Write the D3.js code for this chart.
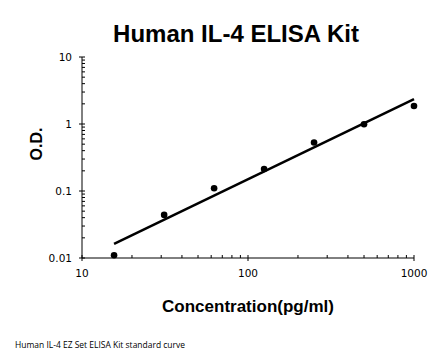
<!DOCTYPE html>
<html>
<head>
<meta charset="utf-8">
<script src="https://cdn.jsdelivr.net/npm/d3@7"></script>
<style>
body { margin: 0; background: #fff; }
text { font-family: "Liberation Sans", Arial, sans-serif; fill: #000; }
</style>
</head>
<body>
<script>
const concentration = [15.6, 31.25, 62.5, 125, 250, 500, 1000];
const od = [0.011, 0.044, 0.11, 0.213, 0.53, 0.99, 1.86];
const xTicks = [10, 100, 1000];
const yTicks = [0.01, 0.1, 1, 10];

const W = 448, H = 361;
const margin = {top: 57, bottom: 103, left: 82, right: 34};

const svg = d3.select('body').append('svg')
  .attr('width', W).attr('height', H);

const x = d3.scaleLog().domain([10, 1000]).range([margin.left, W - margin.right]);
const y = d3.scaleLog().domain([0.01, 10]).range([H - margin.bottom, margin.top]);

// minor ticks
const xMinor = [];
[10, 100].forEach(d => { for (let k = 2; k <= 9; k++) xMinor.push(d * k); });
const yMinor = [];
[0.01, 0.1, 1].forEach(d => { for (let k = 2; k <= 9; k++) yMinor.push(d * k); });

const g = svg.append('g').attr('stroke', '#000').attr('stroke-width', 1);
g.append('line')
  .attr('x1', x(10)).attr('x2', x(1000))
  .attr('y1', y(0.01)).attr('y2', y(0.01));
g.append('line')
  .attr('x1', x(10)).attr('x2', x(10))
  .attr('y1', y(0.01)).attr('y2', y(10));

g.selectAll('.xminor').data(xMinor).join('line')
  .attr('x1', d => x(d)).attr('x2', d => x(d))
  .attr('y1', y(0.01)).attr('y2', y(0.01) - 3);
g.selectAll('.xmajor').data(xTicks).join('line')
  .attr('x1', d => x(d)).attr('x2', d => x(d))
  .attr('y1', y(0.01) + 3).attr('y2', y(0.01) - 3);
g.selectAll('.yminor').data(yMinor).join('line')
  .attr('y1', d => y(d)).attr('y2', d => y(d))
  .attr('x1', x(10)).attr('x2', x(10) + 3);
g.selectAll('.ymajor').data(yTicks).join('line')
  .attr('y1', d => y(d)).attr('y2', d => y(d))
  .attr('x1', x(10) - 3).attr('x2', x(10) + 3);

svg.selectAll('.xlab').data(xTicks).join('text')
  .attr('x', d => x(d)).attr('y', y(0.01) + 19)
  .attr('text-anchor', 'middle').attr('font-size', 10.5)
  .style('font-family', '"DejaVu Sans", sans-serif')
  .text(d => d);
svg.selectAll('.ylab').data(yTicks).join('text')
  .attr('x', x(10) - 10).attr('y', d => y(d) + 4)
  .attr('text-anchor', 'end').attr('font-size', 10.5)
  .style('font-family', '"DejaVu Sans", sans-serif')
  .text(d => d);

// power fit in log-log space
const lx = concentration.map(Math.log10), ly = od.map(Math.log10);
const mx = d3.mean(lx), my = d3.mean(ly);
const slope = d3.sum(lx, (v, i) => (v - mx) * (ly[i] - my)) / d3.sum(lx, v => (v - mx) ** 2);
const fit = c => Math.pow(10, my + slope * (Math.log10(c) - mx));
const ends = d3.extent(concentration);

svg.append('line')
  .attr('x1', x(ends[0])).attr('y1', y(fit(ends[0])))
  .attr('x2', x(ends[1])).attr('y2', y(fit(ends[1])))
  .attr('stroke', '#000').attr('stroke-width', 2.5);

svg.selectAll('circle').data(concentration).join('circle')
  .attr('cx', d => x(d)).attr('cy', (d, i) => y(od[i]))
  .attr('r', 3.3).attr('fill', '#000');

svg.append('text')
  .attr('x', 236).attr('y', 41.5)
  .attr('text-anchor', 'middle').attr('font-size', 24).attr('font-weight', 'bold')
  .text('Human IL-4 ELISA Kit');

svg.append('text')
  .attr('x', 248).attr('y', 311.5)
  .attr('text-anchor', 'middle').attr('font-size', 17).attr('font-weight', 'bold')
  .text('Concentration(pg/ml)');

svg.append('text')
  .attr('transform', 'translate(42,144) rotate(-90)')
  .attr('text-anchor', 'middle').attr('font-size', 16).attr('font-weight', 'bold')
  .text('O.D.');

svg.append('text')
  .attr('x', 15).attr('y', 348)
  .attr('font-size', 9).attr('textLength', 170).attr('lengthAdjust', 'spacingAndGlyphs')
  .style('font-family', '"Open Sans", sans-serif')
  .text('Human IL-4 EZ Set ELISA Kit standard curve');
</script>
</body>
</html>
